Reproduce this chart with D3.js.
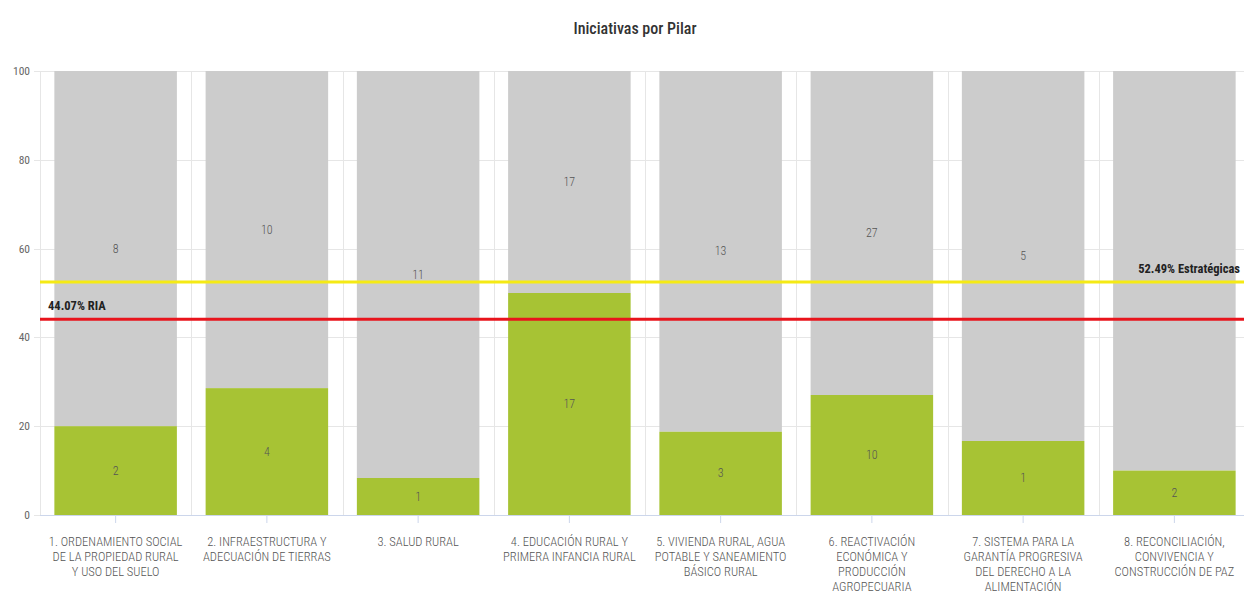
<!DOCTYPE html>
<html>
<head>
<meta charset="utf-8">
<script src="https://cdn.jsdelivr.net/npm/d3@7"></script>
<style>
  html, body { margin: 0; padding: 0; background: #fff; }
  svg { display: block; }
  text { font-family: "Liberation Sans Narrow", "Roboto Condensed", "Roboto", "Open Sans", sans-serif; }
</style>
</head>
<body>
<svg id="chart" width="1244" height="599"></svg>
<script>
// ---- data ----
const categories = [
  ["1. ORDENAMIENTO SOCIAL", "DE LA PROPIEDAD RURAL", "Y USO DEL SUELO"],
  ["2. INFRAESTRUCTURA Y", "ADECUACIÓN DE TIERRAS"],
  ["3. SALUD RURAL"],
  ["4. EDUCACIÓN RURAL Y", "PRIMERA INFANCIA RURAL"],
  ["5. VIVIENDA RURAL, AGUA", "POTABLE Y SANEAMIENTO", "BÁSICO RURAL"],
  ["6. REACTIVACIÓN", "ECONÓMICA Y", "PRODUCCIÓN", "AGROPECUARIA"],
  ["7. SISTEMA PARA LA", "GARANTÍA PROGRESIVA", "DEL DERECHO A LA", "ALIMENTACIÓN"],
  ["8. RECONCILIACIÓN,", "CONVIVENCIA Y", "CONSTRUCCIÓN DE PAZ"]
];
const completed = [2, 4, 1, 17, 3, 10, 1, 2];
const remaining = [8, 10, 11, 17, 13, 27, 5, 18];
const yTicks = [0, 20, 40, 60, 80, 100];
const refValues = [52.49, 44.07];
const refLabels = ["52.49% Estratégicas", "44.07% RIA"];
const chartTitle = "Iniciativas por Pilar";

(function () {
// ---- layout ----
const svg = d3.select("#chart");
const pL = 40, pR = 1250, pT = 71, pB = 515;

const x = d3.scaleBand().domain(d3.range(categories.length))
  .range([pL, pR]).paddingInner(0.19).paddingOuter(0.095);
const y = d3.scaleLinear().domain([0, 100]).range([pB, pT]);

// title
svg.append("text").attr("x", 635).attr("y", 34).attr("text-anchor", "middle")
  .attr("font-size", 16).attr("font-weight", 500).attr("fill", "#333").text(chartTitle);

// horizontal grid
svg.append("g").selectAll("line").data(yTicks).join("line")
  .attr("x1", 34).attr("x2", pR).attr("y1", d => Math.round(y(d)) + 0.5).attr("y2", d => Math.round(y(d)) + 0.5)
  .attr("stroke", "#e6e6e6").attr("stroke-width", 1);

// vertical grid at category boundaries
const step = x.step();
const bounds = d3.range(categories.length + 1).map(i => pL + i * step);
svg.append("g").selectAll("line").data(bounds).join("line")
  .attr("x1", d => Math.round(d) + 0.5).attr("x2", d => Math.round(d) + 0.5)
  .attr("y1", pT).attr("y2", pB)
  .attr("stroke", "#e6e6e6").attr("stroke-width", 1);

// y labels
svg.append("g").selectAll("text").data(yTicks).join("text")
  .attr("x", 30).attr("y", d => y(d) + 4).attr("text-anchor", "end")
  .attr("font-size", 11.5).attr("fill", "#666").text(d => d);

// stacked percent data
const rows = categories.map((c, i) => {
  const tot = completed[i] + remaining[i];
  return { i, c, g: completed[i] / tot * 100, r: remaining[i] / tot * 100 };
});

const bars = svg.append("g");
bars.selectAll("rect.grey").data(rows).join("rect").attr("class", "grey")
  .attr("x", d => x(d.i)).attr("width", x.bandwidth())
  .attr("y", d => y(100)).attr("height", d => y(d.g) - y(100))
  .attr("fill", "#cccccc");
bars.selectAll("rect.green").data(rows).join("rect").attr("class", "green")
  .attr("x", d => x(d.i)).attr("width", x.bandwidth())
  .attr("y", d => y(d.g)).attr("height", d => y(0) - y(d.g))
  .attr("fill", "#a7c334");

// x axis line + ticks
svg.append("line").attr("x1", pL).attr("x2", pR).attr("y1", pB + 0.5).attr("y2", pB + 0.5)
  .attr("stroke", "#ccd6eb");
svg.append("g").selectAll("line").data(rows).join("line")
  .attr("x1", d => x(d.i) + x.bandwidth() / 2).attr("x2", d => x(d.i) + x.bandwidth() / 2)
  .attr("y1", pB).attr("y2", pB + 8).attr("stroke", "#ccd6eb");

// x labels
const xl = svg.append("g").selectAll("text").data(rows).join("text")
  .attr("text-anchor", "middle").attr("font-size", 12.5).attr("font-weight", 300).attr("fill", "#555");
xl.each(function (d) {
  const t = d3.select(this);
  d.c.forEach((line, k) => {
    t.append("tspan").attr("x", x(d.i) + x.bandwidth() / 2).attr("y", 546 + k * 15).text(line);
  });
});

// reference lines
const refColors = ["#f5ea14", "#e8141c"];
svg.append("g").selectAll("line").data(refValues).join("line")
  .attr("x1", pL).attr("x2", pR).attr("y1", d => y(d)).attr("y2", d => y(d))
  .attr("stroke", (d, i) => refColors[i]).attr("stroke-width", 3);

// reference labels
const refText = svg.append("g");
const annBoxes = [];
refText.append("text").attr("x", 1240).attr("y", y(refValues[0]) - 9).attr("text-anchor", "end")
  .attr("font-size", 12.5).attr("font-weight", "bold").attr("fill", "#222").text(refLabels[0])
  .each(function () { annBoxes.push(this.getBBox()); });
refText.append("text").attr("x", 48).attr("y", y(refValues[1]) - 9).attr("text-anchor", "start")
  .attr("font-size", 12.5).attr("font-weight", "bold").attr("fill", "#222").text(refLabels[1])
  .each(function () { annBoxes.push(this.getBBox()); });

// data labels (hidden when overlapping an annotation, like the original)
function overlaps(b) {
  return annBoxes.some(a => !(b.x + b.width < a.x || a.x + a.width < b.x || b.y + b.height < a.y || a.y + a.height < b.y));
}
const dl = svg.append("g");
rows.forEach(d => {
  const cx = x(d.i) + x.bandwidth() / 2;
  [[completed[d.i], d.g / 2], [remaining[d.i], (d.g + 100) / 2]].forEach(([v, mid]) => {
    const t = dl.append("text").attr("x", cx).attr("y", y(mid) + 4).attr("text-anchor", "middle")
      .attr("font-size", 12).attr("font-weight", 300).attr("fill", "#555").text(v);
    if (overlaps(t.node().getBBox())) t.remove();
  });
});
})();
</script>
</body>
</html>
